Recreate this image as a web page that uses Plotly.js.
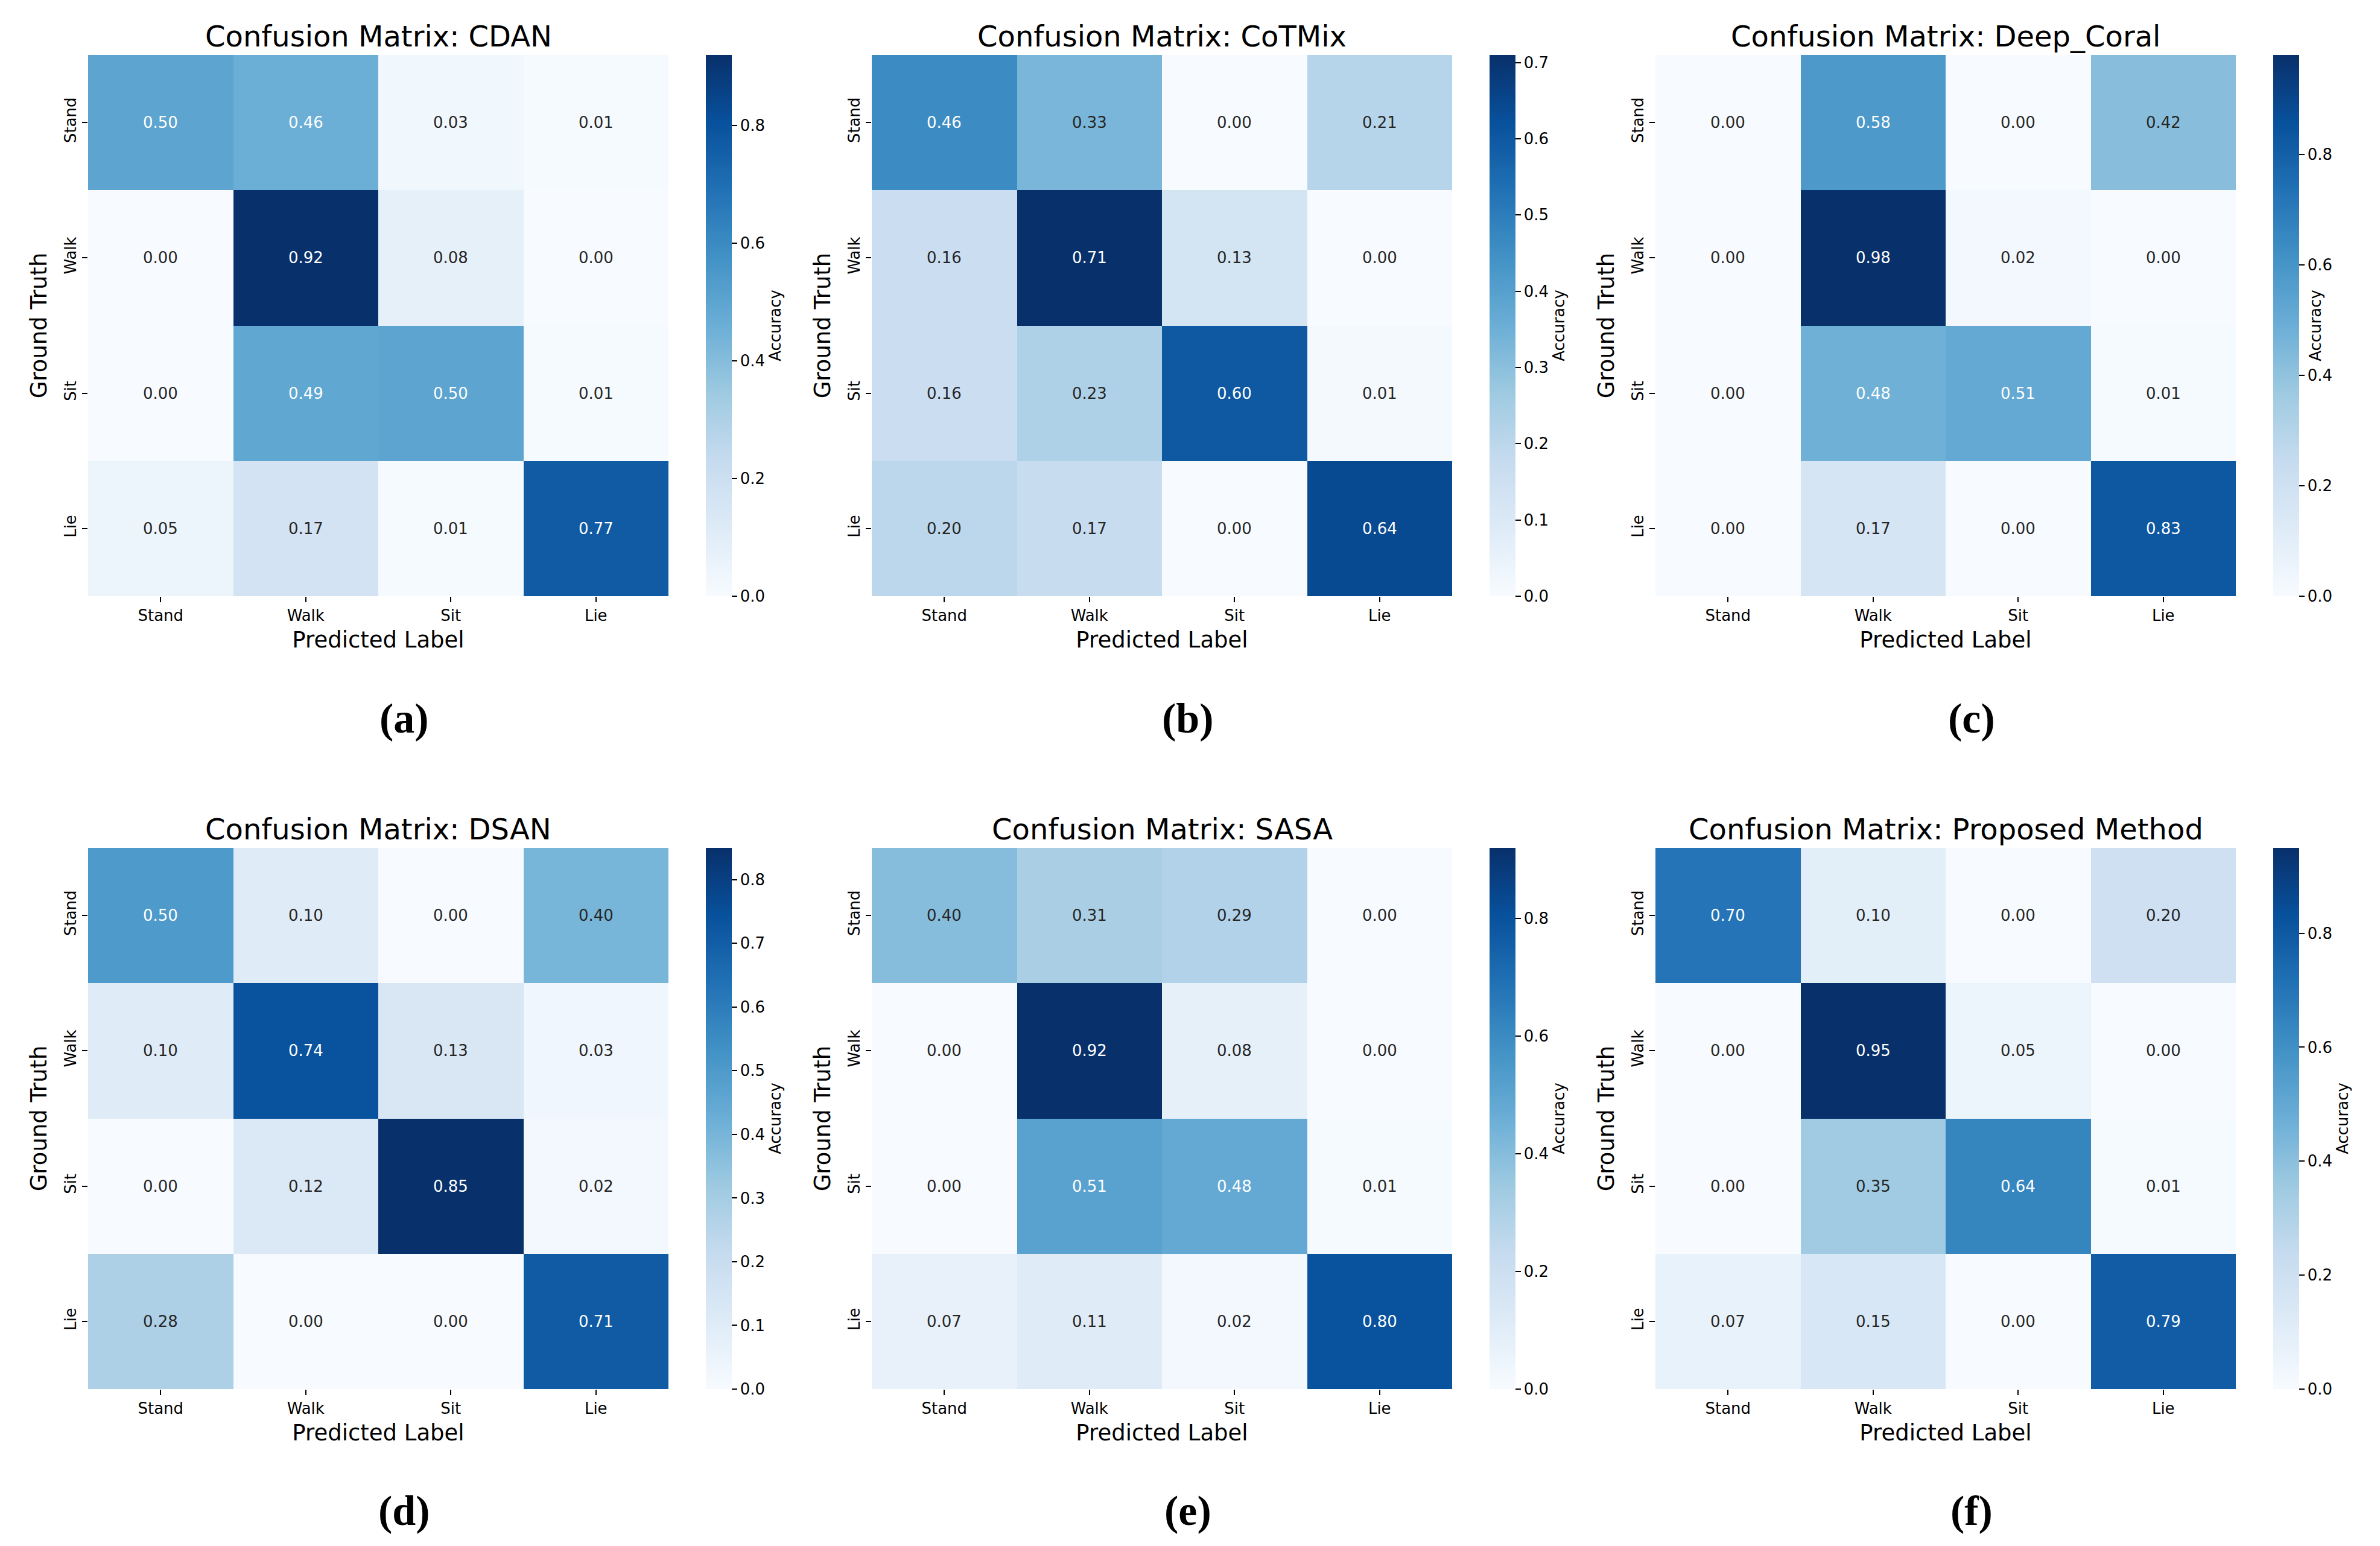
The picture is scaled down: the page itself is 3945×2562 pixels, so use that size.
<!DOCTYPE html>
<html>
<head>
<meta charset="utf-8">
<script src="https://cdn.plot.ly/plotly-3.0.1.min.js"></script>
<style>
body{margin:0;background:#fff}
#graph{width:3945px;height:2562px}
</style>
</head>
<body>
<div id="graph"></div>
<script>
var predLabels = ['Stand', 'Walk', 'Sit', 'Lie'];
var trueLabels = ['Stand', 'Walk', 'Sit', 'Lie'];
var methods = ['CDAN', 'CoTMix', 'Deep_Coral', 'DSAN', 'SASA', 'Proposed Method'];
var captions = ['(a)', '(b)', '(c)', '(d)', '(e)', '(f)'];

var cdan = [[0.50, 0.46, 0.03, 0.01],
            [0.00, 0.92, 0.08, 0.00],
            [0.00, 0.49, 0.50, 0.01],
            [0.05, 0.17, 0.01, 0.77]];
var cotmix = [[0.46, 0.33, 0.00, 0.21],
              [0.16, 0.71, 0.13, 0.00],
              [0.16, 0.23, 0.60, 0.01],
              [0.20, 0.17, 0.00, 0.64]];
var deepCoral = [[0.00, 0.58, 0.00, 0.42],
                 [0.00, 0.98, 0.02, 0.00],
                 [0.00, 0.48, 0.51, 0.01],
                 [0.00, 0.17, 0.00, 0.83]];
var dsan = [[0.50, 0.10, 0.00, 0.40],
            [0.10, 0.74, 0.13, 0.03],
            [0.00, 0.12, 0.85, 0.02],
            [0.28, 0.00, 0.00, 0.71]];
var sasa = [[0.40, 0.31, 0.29, 0.00],
            [0.00, 0.92, 0.08, 0.00],
            [0.00, 0.51, 0.48, 0.01],
            [0.07, 0.11, 0.02, 0.80]];
var proposed = [[0.70, 0.10, 0.00, 0.20],
                [0.00, 0.95, 0.05, 0.00],
                [0.00, 0.35, 0.64, 0.01],
                [0.07, 0.15, 0.00, 0.79]];

var cbarTickStep = [0.2, 0.1, 0.2, 0.1, 0.2, 0.2];

var matrices = [cdan, cotmix, deepCoral, dsan, sasa, proposed];

// matplotlib "Blues"
var bluesHex = ['#f7fbff', '#deebf7', '#c6dbef', '#9ecae1', '#6baed6',
                '#4292c6', '#2171b5', '#08519c', '#08306b'];
var blues = bluesHex.map(function (c, i) { return [i / 8, c]; });

function hexRgb(h) {
    return [parseInt(h.substr(1, 2), 16), parseInt(h.substr(3, 2), 16), parseInt(h.substr(5, 2), 16)];
}

// seaborn picks text colour from cell luminance
function textColor(frac) {
    var p = Math.max(0, Math.min(1, frac)) * 8;
    var i = Math.min(7, Math.floor(p)), f = p - i;
    var a = hexRgb(bluesHex[i]), b = hexRgb(bluesHex[i + 1]);
    var lin = [0, 1, 2].map(function (k) {
        var v = (a[k] + (b[k] - a[k]) * f) / 255;
        return v <= 0.03928 ? v / 12.92 : Math.pow((v + 0.055) / 1.055, 2.4);
    });
    var lum = 0.2126 * lin[0] + 0.7152 * lin[1] + 0.0722 * lin[2];
    return lum > 0.408 ? '#262626' : '#ffffff';
}

var W = 3945, H = 2562;
var colLeft = [146, 1445, 2744];
var rowTop = [91, 1405];
var capY = [1190, 2503];
var cellW = 962, cellH = 897;

var data = [];
var layout = {
    width: W,
    height: H,
    margin: {l: 0, r: 0, t: 0, b: 0},
    paper_bgcolor: '#ffffff',
    plot_bgcolor: '#ffffff',
    font: {family: 'DejaVu Sans', color: '#000000', size: 26},
    showlegend: false,
    annotations: []
};

matrices.forEach(function (z, n) {
    var col = n % 3, row = Math.floor(n / 3);
    var left = colLeft[col], top = rowTop[row];
    var sfx = n === 0 ? '' : String(n + 1);
    var zmax = Math.max.apply(null, z.map(function (r) { return Math.max.apply(null, r); }));

    data.push({
        type: 'heatmap',
        z: z,
        x: predLabels,
        y: trueLabels,
        xaxis: 'x' + sfx,
        yaxis: 'y' + sfx,
        zmin: 0,
        zmax: zmax,
        colorscale: blues,
        hoverinfo: 'skip',
        colorbar: {
            x: (left + 1024) / W,
            xanchor: 'left',
            y: 1 - (top + cellH / 2) / H,
            yanchor: 'middle',
            len: cellH / H,
            lenmode: 'fraction',
            thickness: 43,
            thicknessmode: 'pixels',
            xpad: 0,
            ypad: 0,
            outlinewidth: 0,
            ticks: 'outside',
            ticklen: 9,
            tickwidth: 2,
            tickcolor: '#000000',
            tick0: 0,
            dtick: cbarTickStep[n],
            tickformat: '.1f',
            tickfont: {size: 26},
            title: {text: 'Accuracy', side: 'right', font: {size: 26}}
        }
    });

    layout['xaxis' + sfx] = {
        domain: [left / W, (left + cellW) / W],
        anchor: 'y' + sfx,
        type: 'category',
        showgrid: false,
        zeroline: false,
        showline: false,
        ticks: 'outside',
        ticklen: 9,
        tickwidth: 2,
        tickcolor: '#000000',
        tickfont: {size: 26},
        automargin: false,
        title: {text: 'Predicted Label', font: {size: 37}, standoff: 12}
    };
    layout['yaxis' + sfx] = {
        domain: [1 - (top + cellH) / H, 1 - top / H],
        anchor: 'x' + sfx,
        type: 'category',
        autorange: 'reversed',
        showgrid: false,
        zeroline: false,
        showline: false,
        ticks: 'outside',
        ticklen: 9,
        tickwidth: 2,
        tickcolor: '#000000',
        tickangle: -90,
        tickfont: {size: 26},
        automargin: false,
        title: {text: 'Ground Truth', font: {size: 37}, standoff: 12}
    };

    // cell values
    z.forEach(function (r, i) {
        r.forEach(function (v, j) {
            layout.annotations.push({
                xref: 'x' + sfx, yref: 'y' + sfx,
                x: predLabels[j], y: trueLabels[i],
                text: v.toFixed(2),
                showarrow: false,
                font: {size: 26, color: textColor(v / zmax)}
            });
        });
    });

    // panel title
    layout.annotations.push({
        xref: 'paper', yref: 'paper',
        x: (left + cellW / 2) / W,
        y: 1 - (top - 31) / H,
        xanchor: 'center', yanchor: 'middle',
        text: 'Confusion Matrix: ' + methods[n],
        showarrow: false,
        font: {size: 48, color: '#000000'}
    });

    // sub-figure letter
    layout.annotations.push({
        xref: 'paper', yref: 'paper',
        x: (left + cellW / 2 + 43) / W,
        y: 1 - capY[row] / H,
        xanchor: 'center', yanchor: 'middle',
        text: '<b>' + captions[n] + '</b>',
        showarrow: false,
        font: {family: 'Liberation Serif', size: 70, color: '#000000'}
    });
});

Plotly.newPlot('graph', data, layout, {staticPlot: true});
</script>
</body>
</html>
